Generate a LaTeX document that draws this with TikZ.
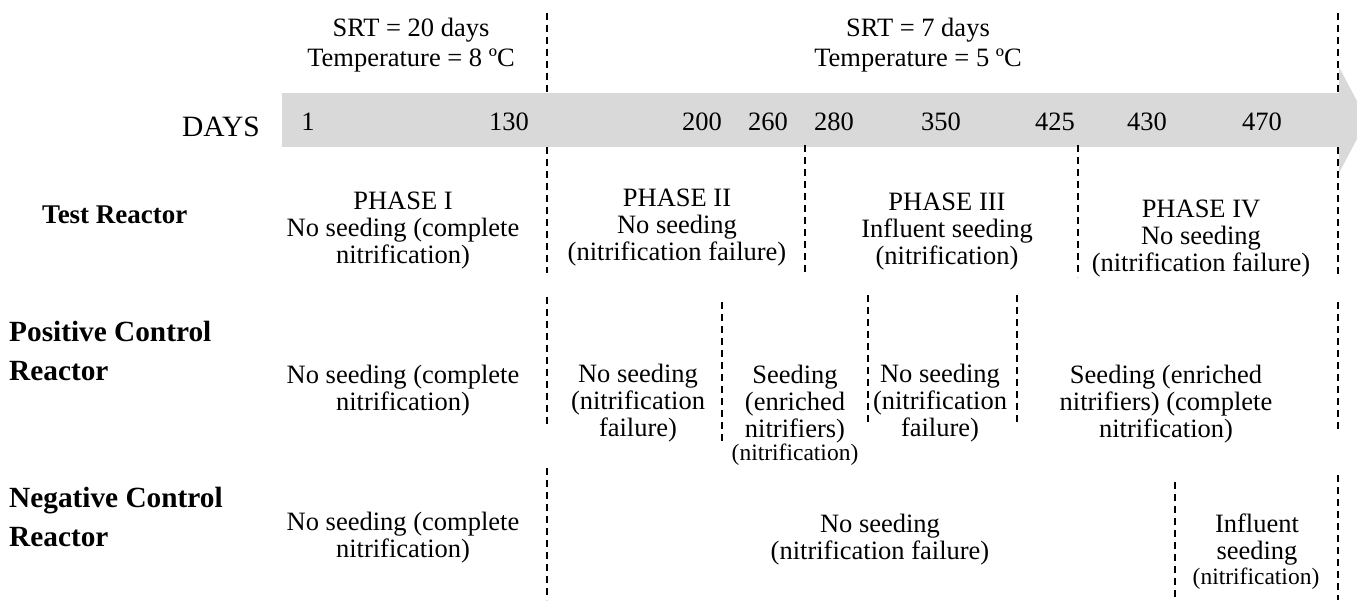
\documentclass[tikz,border=0pt]{standalone}
\usepackage{fontspec}
\setmainfont{Liberation Serif}
\definecolor{bandgray}{HTML}{D9D9D9}
\begin{document}
\begin{tikzpicture}[x=1pt,y=-1pt,
  txt/.style={font=\fontsize{26.5}{27}\selectfont, align=center, inner sep=0pt},
  smalltxt/.style={font=\fontsize{23.5}{27}\selectfont, inner sep=0pt},
  lbl/.style={font=\fontsize{27}{38.5}\selectfont\bfseries, align=left, inner sep=0pt, anchor=west},
  biglbl/.style={lbl, font=\fontsize{29.3}{38.5}\selectfont\bfseries},
  sepline/.style={draw=black, line width=1.5pt, dash pattern=on 7pt off 5pt},
  thinsep/.style={draw=black, line width=1.1pt, dash pattern=on 7pt off 5pt}]
\useasboundingbox (0,0) rectangle (1357,602);
\begin{scope}
\clip (0,0) rectangle (1357,602);
% timeline band and arrow head
\fill[bandgray] (282,93) rectangle (1339,147);
\fill[bandgray] (1339,67) -- (1367,120) -- (1339,173) -- cycle;
\end{scope}

% dashed separators
\draw[sepline] (547,13) -- (547,93);
\draw[sepline] (1338,13) -- (1338,93);
\draw[sepline] (547,147) -- (547,273);
\draw[sepline] (805,145) -- (805,273);
\draw[sepline] (1078,145) -- (1078,277);
\draw[sepline] (1338,147) -- (1338,277);
\draw[thinsep] (547,297) -- (547,425);
\draw[sepline] (722,302) -- (722,442);
\draw[sepline] (868,295) -- (868,425);
\draw[sepline] (1017,295) -- (1017,425);
\draw[sepline] (1338,302) -- (1338,432);
\draw[sepline] (547,468) -- (547,600);
\draw[sepline] (1175,482) -- (1175,600);
\draw[sepline] (1338,475) -- (1338,600);

% header
\node[txt] (cond1) at (411,45) {SRT = 20 days\\[3pt]Temperature = 8 ºC};
\node[txt] (cond2) at (918,45) {SRT = 7 days\\[3pt]Temperature = 5 ºC};

% days
\node[txt, font=\fontsize{29.5}{30}\selectfont] (days) at (221,127) {DAYS};
\node[txt] (d1) at (308,122) {1};
\node[txt] (d130) at (509,122) {130};
\node[txt] (d200) at (702,122) {200};
\node[txt] (d260) at (768,122) {260};
\node[txt] (d280) at (834,122) {280};
\node[txt] (d350) at (941,122) {350};
\node[txt] (d425) at (1055,122) {425};
\node[txt] (d430) at (1147,122) {430};
\node[txt] (d470) at (1262,122) {470};

% test reactor
\node[lbl] (test) at (42,215) {Test Reactor};
\node[txt] (p1) at (403,231) {PHASE I\\No seeding (complete\\nitrification)};
\node[txt] (p2) at (677,228) {PHASE II\\No seeding\\(nitrification failure)};
\node[txt] (p3) at (947,232) {PHASE III\\Influent seeding\\(nitrification)};
\node[txt] (p4) at (1201,239) {PHASE IV\\No seeding\\(nitrification failure)};

% positive control reactor
\node[biglbl] (pos) at (9,351) {Positive Control\\Reactor};
\node[txt] (pc1) at (403,391) {No seeding (complete\\nitrification)};
\node[txt] (pc2) at (638,403) {No seeding\\(nitrification\\failure)};
\node[txt] (pc3) at (795,404) {Seeding\\(enriched\\nitrifiers)};
\node[smalltxt] (pc3b) at (795,455) {(nitrification)};
\node[txt] (pc4) at (940,403) {No seeding\\(nitrification\\failure)};
\node[txt] (pc5) at (1166,404) {Seeding (enriched\\nitrifiers) (complete\\nitrification)};

% negative control reactor
\node[biglbl] (neg) at (9,517) {Negative Control\\Reactor};
\node[txt] (nc1) at (403,538) {No seeding (complete\\nitrification)};
\node[txt] (nc2) at (880,540) {No seeding\\(nitrification failure)};
\node[txt] (nc3a) at (1257,540) {Influent\\seeding};
\node[smalltxt] (nc3b) at (1256,579) {(nitrification)};
\end{tikzpicture}
\end{document}
